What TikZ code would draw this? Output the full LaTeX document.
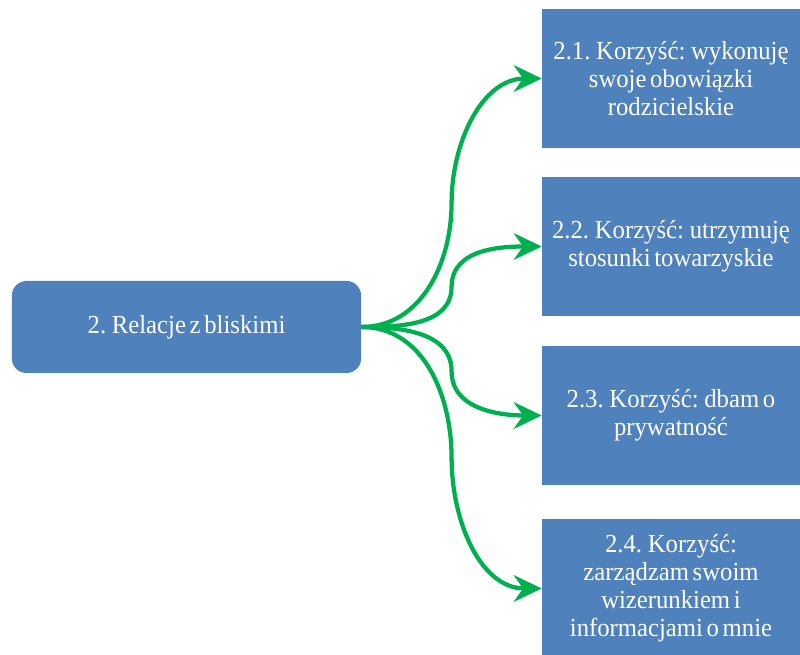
\documentclass[tikz,border=0pt]{standalone}
\usepackage{fontspec}
\setmainfont{Liberation Serif}[WordSpace=0.6,FakeStretch=0.95]
\usepackage{tikz}
\usetikzlibrary{arrows.meta,calc}
\definecolor{boxBlue}{HTML}{4F81BD}
\definecolor{linkGreen}{HTML}{00B050}
\tikzset{>={Stealth[length=21pt,width=20pt,inset=7pt]}}
\tikzstyle{topic}   = [rectangle,rounded corners=11pt,fill=boxBlue,text=white,minimum width=262pt,minimum height=69pt,align=center]
\tikzstyle{benefit} = [rectangle,fill=boxBlue,text=white,minimum width=193.5pt,minimum height=104pt,align=center]
\tikzstyle{link}    = [->,linkGreen,line width=3.2pt]

\begin{document}
\begin{tikzpicture}[x=0.75pt,y=-0.75pt,font=\fontsize{19.5}{21}\selectfont]
	\useasboundingbox (0,0) rectangle (800,655);

	\node[topic] (rel) at (186.5,327) {2. Relacje z bliskimi};

	\node[benefit] (k1) at (671,78.5)  {2.1. Korzyść: wykonuję\\swoje obowiązki\\rodzicielskie};
	\node[benefit] (k2) at (671,246.5) {2.2. Korzyść: utrzymuję\\stosunki towarzyskie};
	\node[benefit] (k3) at (671,415.5) {2.3. Korzyść: dbam o\\prywatność};
	\node[benefit] (k4) at (671,588.5) {2.4. Korzyść:\\zarządzam swoim\\wizerunkiem i\\informacjami o mnie};

	% turning points halfway between the boxes
	\coordinate (m1) at ($(rel.east)!0.5!(k1.west)$);
	\coordinate (m2) at ($(rel.east)!0.5!(k2.west)$);
	\coordinate (m3) at ($(rel.east)!0.5!(k3.west)$);
	\coordinate (m4) at ($(rel.east)!0.5!(k4.west)$);

	\draw[link] (rel.east) to[out=0,in=-90] (m1) to[out=90,in=180] (k1.west);
	\draw[link] (rel.east) to[out=0,in=-90] (m2) to[out=90,in=180] (k2.west);
	\draw[link] (rel.east) to[out=0,in=90] (m3) to[out=-90,in=180] (k3.west);
	\draw[link] (rel.east) to[out=0,in=90] (m4) to[out=-90,in=180] (k4.west);
\end{tikzpicture}
\end{document}
